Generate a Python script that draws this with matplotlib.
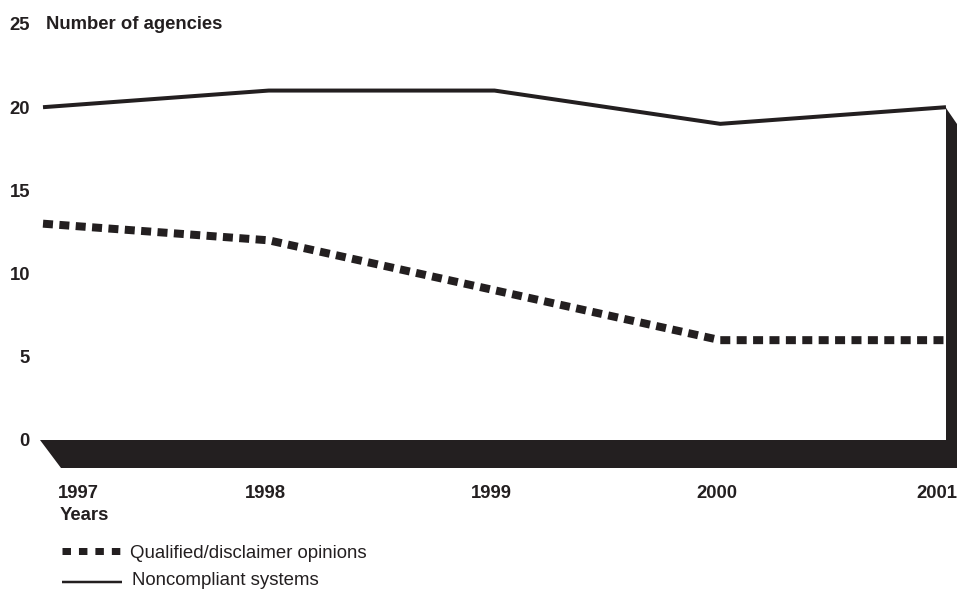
import matplotlib
matplotlib.use("Agg")
import matplotlib.pyplot as plt
from matplotlib.patches import Polygon
from matplotlib.lines import Line2D
from matplotlib.transforms import blended_transform_factory, ScaledTranslation

plt.rcParams['font.family'] = ['Liberation Sans', 'DejaVu Sans']

years = [1997, 1998, 1999, 2000, 2001]
year_labels = ['1997', '1998', '1999', '2000', '2001']
noncompliant = [20, 21, 21, 19, 20]
qualified = [13, 12, 9, 6, 6]
y_ticks = [0, 5, 10, 15, 20, 25]
series_labels = ['Qualified/disclaimer opinions', 'Noncompliant systems']
y_title = 'Number of agencies'
x_title = 'Years'

INK = '#231f20'
W, H = 957, 589
DPI = 100
BOLD_SIZE = 13.3
LEG_SIZE = 13.4

fig = plt.figure(figsize=(W / DPI, H / DPI), dpi=DPI)
fig.patch.set_facecolor('white')

# axes box in pixels: x 43..946, y(0)=440, y(25)=24 from top
left, right = 43, 946
y0_px, y25_px = 440, 24
ax = fig.add_axes([left / W, (H - y0_px) / H, (right - left) / W, (y0_px - y25_px) / H])
ax.set_xlim(years[0], years[-1])
ax.set_ylim(0, 25)
ax.axis('off')

ax_w = right - left
ax_h = y0_px - y25_px


def ax_pt(xp, yp):
    """pixel position (from top-left of figure) -> axes fraction"""
    return ((xp - left) / ax_w, (y0_px - yp) / ax_h)


# floor slab plus right-hand side wall drawn as one solid shape
slab = Polygon([ax_pt(40, 440), ax_pt(946, 440), ax_pt(946, 108),
                ax_pt(957, 124), ax_pt(957, 468), ax_pt(61, 468)],
               closed=True, transform=ax.transAxes, facecolor=INK,
               edgecolor='none', clip_on=False, zorder=1)
ax.add_patch(slab)

px = 72 / DPI  # points per pixel
ax.plot(years, noncompliant, color=INK, lw=4 * px, solid_capstyle='butt',
        clip_on=False, zorder=3)
ax.plot(years, qualified, color=INK, lw=8 * px, dashes=(1.25, 0.8),
        dash_capstyle='butt', clip_on=False, zorder=3)


def fy(yp):
    return (H - yp) / H


# y tick labels
for v in y_ticks:
    ypix = y0_px - v / 25 * ax_h
    fig.text(30 / W, fy(ypix + 6.5), str(v), ha='right', va='baseline',
             fontsize=BOLD_SIZE, fontweight='bold', color=INK)
fig.text(46 / W, fy(29), y_title, ha='left', va='baseline',
         fontsize=BOLD_SIZE, fontweight='bold', color=INK)

# x tick labels
xt = blended_transform_factory(ax.transData, fig.transFigure)
for i, (yr, lab) in enumerate(zip(years, year_labels)):
    if i == 0:
        ha, dx = 'left', 15
    elif i == len(years) - 1:
        ha, dx = 'right', 11.5
    else:
        ha, dx = 'center', -3
    tr = xt + ScaledTranslation(dx / DPI, 0, fig.dpi_scale_trans)
    ax.text(yr, fy(498), lab, transform=tr, ha=ha, va='baseline',
            fontsize=BOLD_SIZE, fontweight='bold', color=INK, clip_on=False)
fig.text(60 / W, fy(520), x_title, ha='left', va='baseline',
         fontsize=BOLD_SIZE, fontweight='bold', color=INK)

# legend
leg_y1 = fy(550.5)
leg_y2 = fy(582)
fig.add_artist(Line2D([62 / W, 120.5 / W], [leg_y1, leg_y1], transform=fig.transFigure,
                      color=INK, lw=7 * px, dashes=(1.21, 1.14),
                      dash_capstyle='butt'))
fig.text(130 / W, fy(558), series_labels[0], ha='left', va='baseline',
         fontsize=LEG_SIZE, color=INK)
fig.add_artist(Line2D([62 / W, 122 / W], [leg_y2, leg_y2], transform=fig.transFigure,
                      color=INK, lw=2.5 * px, solid_capstyle='butt'))
fig.text(132 / W, fy(585), series_labels[1], ha='left', va='baseline',
         fontsize=LEG_SIZE, color=INK)

fig.savefig('out.png', dpi=DPI, facecolor='white')
